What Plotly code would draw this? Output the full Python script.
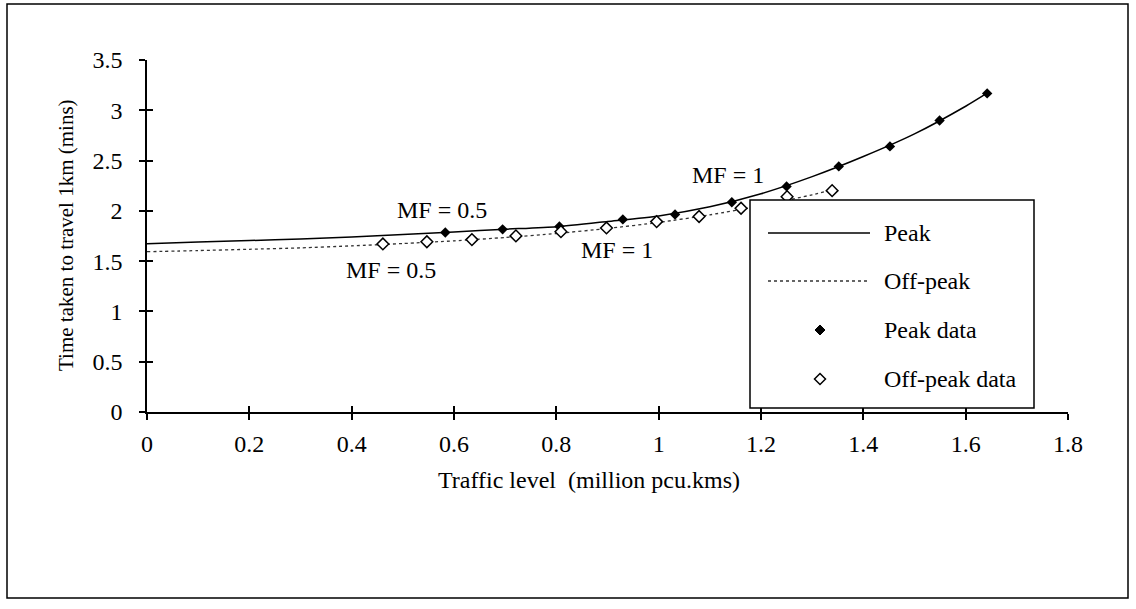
import plotly.graph_objects as go

# ---- data -------------------------------------------------------------
# Fitted speed-flow curves (time per km against traffic level)
peak_curve_x = [0.0, 0.1, 0.2, 0.3, 0.4, 0.5, 0.6, 0.7, 0.8, 0.9, 1.0,
                1.1, 1.2, 1.3, 1.4, 1.5, 1.6, 1.645]
peak_curve_y = [1.674, 1.69, 1.705, 1.72, 1.74, 1.765, 1.79, 1.817, 1.843,
                1.895, 1.95, 2.04, 2.17, 2.34, 2.54, 2.765, 3.04, 3.18]

offpeak_curve_x = [0.0, 0.1, 0.2, 0.3, 0.4, 0.5, 0.6, 0.7, 0.8, 0.9, 1.0,
                   1.1, 1.2, 1.3, 1.34]
offpeak_curve_y = [1.594, 1.605, 1.618, 1.632, 1.652, 1.675, 1.702, 1.735,
                   1.775, 1.825, 1.885, 1.96, 2.05, 2.16, 2.21]

# Observed points
peak_x = [0.583, 0.695, 0.806, 0.930, 1.032, 1.143, 1.250, 1.352, 1.452, 1.549, 1.642]
peak_y = [1.785, 1.816, 1.845, 1.915, 1.964, 2.086, 2.243, 2.442, 2.641, 2.898, 3.168]

offpeak_x = [0.461, 0.547, 0.635, 0.721, 0.809, 0.898, 0.996, 1.079, 1.161, 1.251, 1.339]
offpeak_y = [1.671, 1.693, 1.714, 1.751, 1.793, 1.830, 1.893, 1.944, 2.026, 2.141, 2.201]

# Labels marking the MF scenarios
mf_text = ["MF = 0.5", "MF = 1", "MF = 0.5", "MF = 1"]
mf_x = [0.577, 1.136, 0.477, 0.918]
mf_y = [2.01, 2.354, 1.41, 1.608]

x_ticks = [0, 0.2, 0.4, 0.6, 0.8, 1.0, 1.2, 1.4, 1.6, 1.8]
x_tick_text = ["0", "0.2", "0.4", "0.6", "0.8", "1", "1.2", "1.4", "1.6", "1.8"]
y_ticks = [0, 0.5, 1, 1.5, 2, 2.5, 3, 3.5]
y_tick_text = ["0", "0.5", "1", "1.5", "2", "2.5", "3", "3.5"]

legend_names = ["Peak", "Off-peak", "Peak data", "Off-peak data"]

# ---- layout geometry (pixels) -----------------------------------------
W, H = 1136, 609
ML, MR, MT, MB = 147, 68, 60, 197
PW = W - ML - MR
PH = H - MT - MB
FONT = "Liberation Serif, Times New Roman, serif"
FS = 24


def px(xpix):
    return (xpix - ML) / PW


def py(ypix):
    return (H - MB - ypix) / PH


fig = go.Figure()

fig.add_trace(go.Scatter(
    x=peak_curve_x, y=peak_curve_y, mode="lines", name="Peak",
    line=dict(color="black", width=1.5, shape="spline", smoothing=0.6),
    showlegend=False))
fig.add_trace(go.Scatter(
    x=offpeak_curve_x, y=offpeak_curve_y, mode="lines", name="Off-peak",
    line=dict(color="#333333", width=1.3, dash="dot", shape="spline", smoothing=0.6),
    showlegend=False))
fig.add_trace(go.Scatter(
    x=peak_x, y=peak_y, mode="markers", name="Peak data",
    marker=dict(symbol="diamond", size=8, color="black"),
    showlegend=False))
fig.add_trace(go.Scatter(
    x=offpeak_x, y=offpeak_y, mode="markers", name="Off-peak data",
    marker=dict(symbol="diamond", size=9, color="white",
                line=dict(color="black", width=1.5)),
    showlegend=False))
# invisible companion trace so the inner-tick axes exist
fig.add_trace(go.Scatter(
    x=peak_x, y=peak_y, xaxis="x2", yaxis="y2", mode="markers",
    marker=dict(opacity=0), hoverinfo="skip", showlegend=False))

axis_common = dict(showgrid=False, zeroline=False, linecolor="black",
                   linewidth=1.5, tickcolor="black", tickwidth=1.5,
                   tickfont=dict(family=FONT, size=FS, color="black"))

fig.update_layout(
    width=W, height=H,
    margin=dict(l=ML, r=MR, t=MT, b=MB),
    paper_bgcolor="white", plot_bgcolor="white",
    font=dict(family=FONT, size=FS, color="black"),
    xaxis=dict(range=[0, 1.8], tickvals=x_ticks, ticktext=x_tick_text,
               ticks="outside", ticklen=6, showline=True,
               ticklabelstandoff=3, **axis_common),
    yaxis=dict(range=[0, 3.5], tickvals=y_ticks, ticktext=y_tick_text,
               ticks="outside", ticklen=6, showline=True,
               ticklabelstandoff=12, **axis_common),
    xaxis2=dict(range=[0, 1.8], overlaying="x", anchor="y2",
                tickvals=x_ticks, ticks="inside", ticklen=6,
                showticklabels=False, showline=False, showgrid=False,
                zeroline=False, tickcolor="black", tickwidth=1.5, side="bottom"),
    yaxis2=dict(range=[0, 3.5], overlaying="y", anchor="x2",
                tickvals=y_ticks, ticks="inside", ticklen=6,
                showticklabels=False, showline=False, showgrid=False,
                zeroline=False, tickcolor="black", tickwidth=1.5, side="left"),
    showlegend=False,
)

annotations = []
for t, xv, yv in zip(mf_text, mf_x, mf_y):
    annotations.append(dict(x=xv, y=yv, xref="x", yref="y", text=t,
                            xanchor="center", yanchor="middle",
                            showarrow=False, font=dict(family=FONT, size=FS)))

# axis titles
annotations.append(dict(x=px(589), y=py(480), xref="paper", yref="paper",
                        text="Traffic level \u00a0(million pcu.kms)",
                        xanchor="center", yanchor="middle",
                        showarrow=False, font=dict(family=FONT, size=FS)))
annotations.append(dict(x=px(66), y=py(235), xref="paper", yref="paper",
                        text="Time taken to travel 1km (mins)", textangle=-90,
                        xanchor="center", yanchor="middle",
                        showarrow=False, font=dict(family=FONT, size=21)))

shapes = []
# outer frame
shapes.append(dict(type="rect", xref="paper", yref="paper",
                   x0=px(7), x1=px(1128), y0=py(598), y1=py(4),
                   line=dict(color="black", width=1.5), layer="below"))

# legend box
LX0, LX1, LY0, LY1 = 750, 1034, 200, 408
shapes.append(dict(type="rect", xref="paper", yref="paper",
                   x0=px(LX0), x1=px(LX1), y0=py(LY1), y1=py(LY0),
                   fillcolor="white", line=dict(color="black", width=1.5),
                   layer="above"))
row_y = [233, 281, 330, 379]
shapes.append(dict(type="line", xref="paper", yref="paper",
                   x0=px(768), x1=px(870), y0=py(row_y[0]), y1=py(row_y[0]),
                   line=dict(color="black", width=1.5), layer="above"))
shapes.append(dict(type="line", xref="paper", yref="paper",
                   x0=px(768), x1=px(870), y0=py(row_y[1]), y1=py(row_y[1]),
                   line=dict(color="#333333", width=1.3, dash="dot"), layer="above"))


def diamond_path(cx, cy, hw, hh):
    pts = [(cx, cy - hh), (cx + hw, cy), (cx, cy + hh), (cx - hw, cy)]
    return "M" + " L".join(f"{px(a):.5f},{py(b):.5f}" for a, b in pts) + " Z"


shapes.append(dict(type="path", xref="paper", yref="paper",
                   path=diamond_path(820, row_y[2], 5, 5),
                   fillcolor="black", line=dict(color="black", width=1),
                   layer="above"))
shapes.append(dict(type="path", xref="paper", yref="paper",
                   path=diamond_path(820, row_y[3], 5.5, 5.5),
                   fillcolor="white", line=dict(color="black", width=1.5),
                   layer="above"))

for name, yy in zip(legend_names, row_y):
    annotations.append(dict(x=px(882), y=py(yy), xref="paper", yref="paper",
                            text=name, xanchor="left", yanchor="middle",
                            showarrow=False, font=dict(family=FONT, size=FS)))

fig.update_layout(shapes=shapes, annotations=annotations)

fig.write_html("out.html")
